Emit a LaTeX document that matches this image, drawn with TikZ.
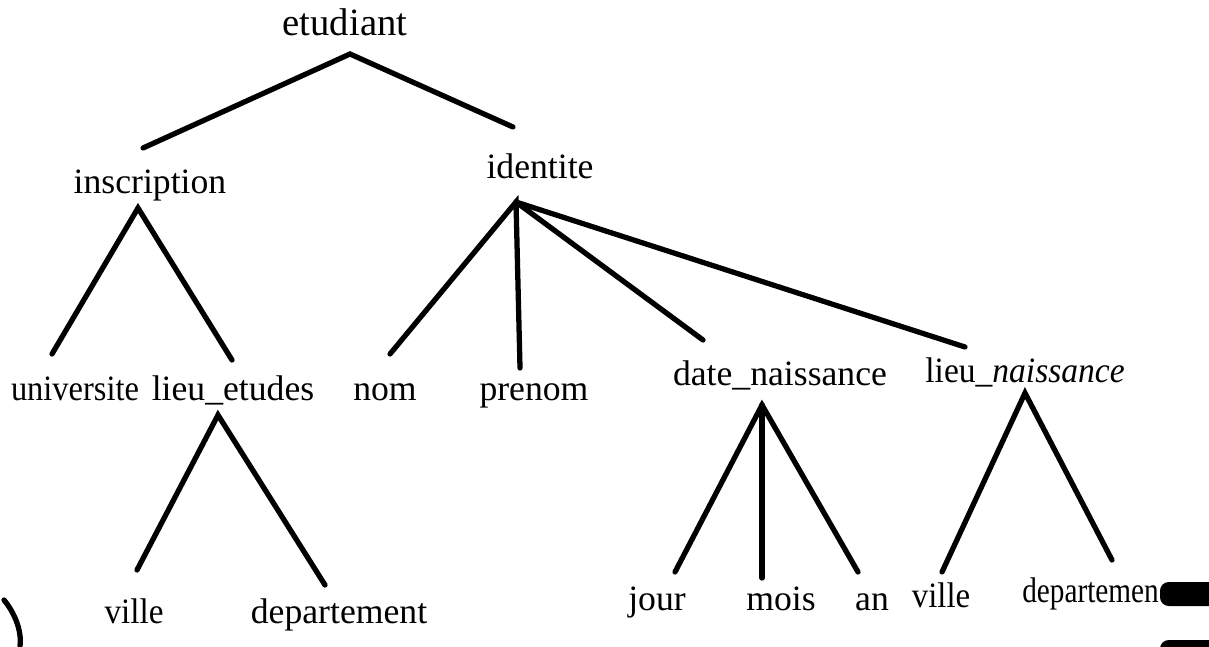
\documentclass[tikz,border=0pt]{standalone}
\usepackage{fontspec}
\setmainfont{Liberation Serif}
\tikzset{branche/.style={line width=3pt,line cap=round}}
\newcommand{\taille}[1]{\fontsize{#1}{#1}\selectfont}
\newcommand{\serre}[2]{\scalebox{#1}[1]{#2}}

\begin{document}
\begin{tikzpicture}[x=.02cm,y=-.02cm,every node/.style={font=\taille{20.3},inner sep=0pt,anchor=base}]
\useasboundingbox (0,0) rectangle (1209,646);
%racine
\node[font=\taille{22}] (etudiant) at (345,35) {etudiant};
\coordinate (etudiant-dn) at (350,54);
%niveau 1
\node (inscription) at (150,193) {inscription};
\coordinate (inscription-up) at (143,148);
\coordinate (inscription-dn) at (138,208);
\node (identite) at (540,178) {identite};
\coordinate (identite-up) at (513,127);
\coordinate (identite-dn) at (516,202);
%niveau 2
\node (universite) at (75,400) {\serre{.91}{universite}};
\coordinate (universite-up) at (52,354);
\node (lieuetudes) at (233,400) {lieu\_etudes};
\coordinate (lieuetudes-up) at (232,360);
\coordinate (lieuetudes-dn) at (218,415);
\node (nom) at (385,400) {nom};
\coordinate (nom-up) at (390,354);
\node (prenom) at (534,400) {prenom};
\coordinate (prenom-up) at (520,368);
\node (datenaiss) at (780,385) {date\_naissance};
\coordinate (datenaiss-up) at (703,340);
\coordinate (datenaiss-dn) at (762,405);
\node (lieunaiss) at (1025,382) {\serre{.94}{lieu\_\textit{naissance}}};
\coordinate (lieunaiss-up) at (965,347);
\coordinate (lieunaiss-dn) at (1025,393);
%niveau 3
\node (ville) at (134,623) {\serre{.93}{ville}};
\coordinate (ville-up) at (137,570);
\node (departement) at (339,623) {departement};
\coordinate (departement-up) at (325,585);
\node (jour) at (657,610) {jour};
\coordinate (jour-up) at (675,572);
\node (mois) at (781,610) {mois};
\coordinate (mois-up) at (762,578);
\node (an) at (872,610) {an};
\coordinate (an-up) at (858,572);
\node (villen) at (941,607) {\serre{.92}{ville}};
\coordinate (villen-up) at (942,572);
\node[anchor=base west] (departementn) at (1022,602) {\serre{.82}{departemen}};
\coordinate (departementn-up) at (1112,560);
%branches
\draw[branche] (inscription-up) -- (etudiant-dn) -- (identite-up);
\draw[branche] (universite-up) -- (inscription-dn) -- (lieuetudes-up);
\draw[branche] (nom-up) -- (identite-dn) -- (prenom-up);
\draw[branche] (identite-dn) -- (datenaiss-up);
\draw[branche] (identite-dn) -- (lieunaiss-up);
\draw[branche] (ville-up) -- (lieuetudes-dn) -- (departement-up);
\draw[branche] (jour-up) -- (datenaiss-dn) -- (an-up);
\draw[branche] (datenaiss-dn) -- (mois-up);
\draw[branche] (villen-up) -- (lieunaiss-dn) -- (departementn-up);
%bords du scan
\fill[rounded corners=5pt] (1160,582) rectangle (1230,606);
\fill[rounded corners=5pt] (1160,640) rectangle (1230,660);
\draw[branche] (4,600) .. controls (14,612) and (22,630) .. (20,646);
\end{tikzpicture}
\end{document}
